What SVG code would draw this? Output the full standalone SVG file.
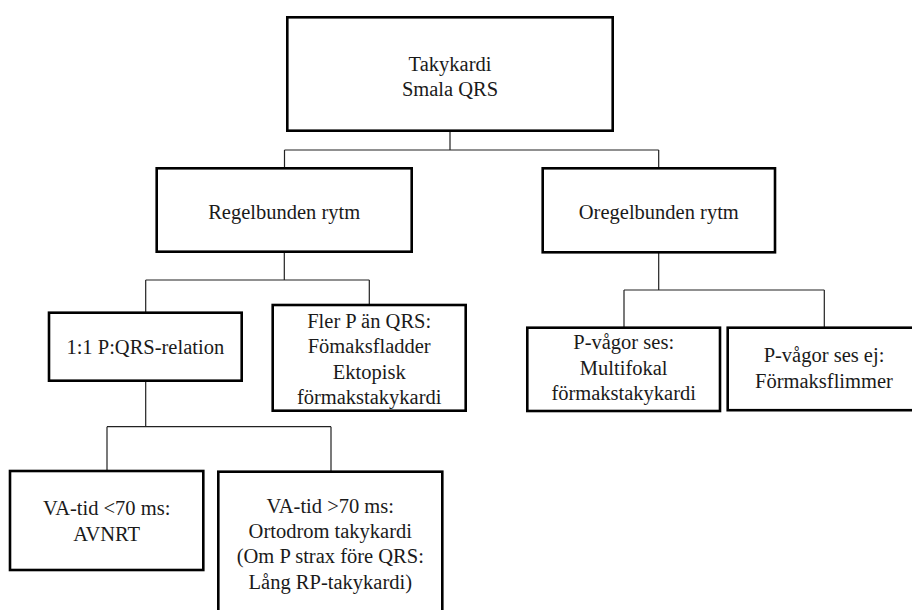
<svg xmlns="http://www.w3.org/2000/svg" width="912" height="610" viewBox="0 0 912 610">
<style>
.box{fill:#fff;stroke:#000;stroke-width:2.6}
.t{font-family:'Liberation Serif','Times New Roman',serif;font-size:20.5px;fill:#1a1a1a;text-anchor:middle}
.c{fill:none;stroke:#222;stroke-width:1.2}
</style>
<rect width="912" height="610" fill="#fff"/>
<g id="connectors">
<path class="c" d="M450 130.7V150M284.5 150H658.7M284.5 150V168.3M658.7 150V168.3"/>
<path class="c" d="M284.3 251.7V280M145.7 280H369.3M145.7 280V312.7M369.3 280V305"/>
<path class="c" d="M658.7 252.3V290M624 290H824.3M624 290V327.7M824.3 290V327.7"/>
<path class="c" d="M145.7 380.7V426.7M107 426.7H331M107 426.7V471M331 426.7V471.7"/>
</g>
<g id="n-root">
<rect class="box" x="287.3" y="17.3" width="325.4" height="113.4"/>
<text class="t" x="450" y="70.7">Takykardi</text>
<text class="t" x="450" y="95.7">Smala QRS</text>
</g>
<g id="n-regel">
<rect class="box" x="156.7" y="168.3" width="255" height="83.4"/>
<text class="t" x="284.2" y="218.5">Regelbunden rytm</text>
</g>
<g id="n-oregel">
<rect class="box" x="542.7" y="168.3" width="232.3" height="84"/>
<text class="t" x="658.8" y="219">Oregelbunden rytm</text>
</g>
<g id="n-11">
<rect class="box" x="49" y="312.7" width="192.7" height="68"/>
<text class="t" x="145.3" y="354.3">1:1 P:QRS-relation</text>
</g>
<g id="n-flerp">
<rect class="box" x="272.7" y="305" width="193" height="105.7"/>
<text class="t" x="369.2" y="327.5">Fler P än QRS:</text>
<text class="t" x="369.2" y="352.8">Fömaksfladder</text>
<text class="t" x="369.2" y="378.5">Ektopisk</text>
<text class="t" x="369.2" y="403.8">förmakstakykardi</text>
</g>
<g id="n-pses">
<rect class="box" x="527.3" y="327.7" width="192.7" height="83.3"/>
<text class="t" x="623.7" y="349.3">P-vågor ses:</text>
<text class="t" x="623.7" y="375">Multifokal</text>
<text class="t" x="623.7" y="400.3">förmakstakykardi</text>
</g>
<g id="n-psesej">
<rect class="box" x="727.7" y="327.7" width="192.3" height="82.5"/>
<text class="t" x="824" y="362">P-vågor ses ej:</text>
<text class="t" x="824" y="387.8">Förmaksflimmer</text>
</g>
<g id="n-va-lt">
<rect class="box" x="10" y="471" width="193.3" height="99"/>
<text class="t" x="106.7" y="515">VA-tid &lt;70 ms:</text>
<text class="t" x="106.7" y="541">AVNRT</text>
</g>
<g id="n-va-gt">
<rect class="box" x="218.3" y="471.7" width="224" height="146"/>
<text class="t" x="330.3" y="512.5">VA-tid &gt;70 ms:</text>
<text class="t" x="330.3" y="537.8">Ortodrom takykardi</text>
<text class="t" x="330.3" y="563.3">(Om P strax före QRS:</text>
<text class="t" x="330.3" y="588.5">Lång RP-takykardi)</text>
</g>
</svg>
